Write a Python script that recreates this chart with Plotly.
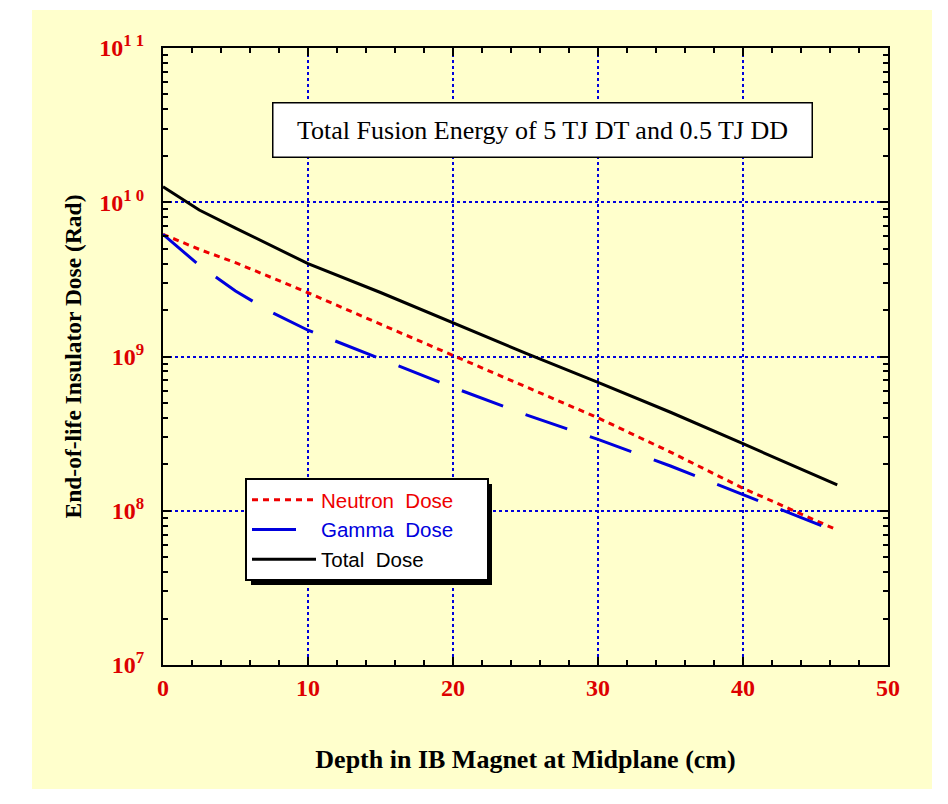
import plotly.graph_objects as go

depth = [0, 2.5, 5, 7.5, 10, 15, 20, 25, 30, 35, 40, 46.5]
neutron_dose = [6.2e9, 4.95e9, 4.06e9, 3.24e9, 2.59e9, 1.62e9, 1.02e9, 6.4e8, 4.0e8, 2.4e8, 1.40e8, 7.5e7]
gamma_dose = [6.2e9, 3.9e9, 2.66e9, 1.93e9, 1.48e9, 9.7e8, 6.3e8, 4.2e8, 2.9e8, 1.95e8, 1.27e8, 7.3e7]
total_dose = [1.26e10, 8.9e9, 6.8e9, 5.2e9, 4.0e9, 2.6e9, 1.65e9, 1.05e9, 6.8e8, 4.35e8, 2.72e8, 1.47e8]

y_tickvals = [1e7, 1e8, 1e9, 1e10, 1e11]
y_ticktext = ["10<sup>7</sup>", "10<sup>8</sup>", "10<sup>9</sup>", "10<sup>1 0</sup>", "10<sup>1 1</sup>"]
x_tickvals = [0, 10, 20, 30, 40, 50]
x_ticktext = ["0", "10", "20", "30", "40", "50"]

YELLOW = "#FFFFCC"
RED = "#DD0000"
BLUE = "#0000DD"
SERIF = "Liberation Serif, Times New Roman, serif"
SANS = "Liberation Sans, Arial, sans-serif"

# screen offset of the page (body margin 8px)
OFF = 8
W, H = 932, 788
L, T = 163 - OFF, 48 - OFF
PW, PH = 725, 617
R = W - L - PW
B = H - T - PH


def px_x(sx):
    return (sx - 163) / PW


def px_y(sy):
    return (665 - sy) / PH


SP = "&nbsp;"
fig = go.Figure()
fig.add_trace(go.Scatter(x=depth, y=neutron_dose, mode="lines",
                         name="<span style='color:#EE0000'>Neutron" + SP * 2 + "Dose" + SP * 5 + "</span>",
                         line=dict(color="#EE0000", width=3, dash="6px,5px")))
fig.add_trace(go.Scatter(x=depth, y=gamma_dose, mode="lines",
                         name="<span style='color:#0000DD'>Gamma" + SP * 2 + "Dose</span>",
                         line=dict(color="#0000DD", width=3, dash="44px,24px")))
fig.add_trace(go.Scatter(x=depth, y=total_dose, mode="lines",
                         name="<span style='color:#000000'>Total" + SP * 2 + "Dose</span>",
                         line=dict(color="#000000", width=3)))

minor_y = [k * 10 ** n for n in range(7, 11) for k in range(2, 10)]

fig.update_layout(
    width=W, height=H,
    margin=dict(l=L, r=R, t=T, b=B, pad=0),
    paper_bgcolor="white",
    plot_bgcolor=YELLOW,
    showlegend=True,
    legend=dict(
        x=px_x(245), y=px_y(478), xanchor="left", yanchor="top",
        bgcolor="white", bordercolor="black", borderwidth=2,
        font=dict(family=SANS, size=20.5, color="black"),
        tracegroupgap=0, itemwidth=64,
    ),
    xaxis=dict(
        range=[0, 50], tickvals=x_tickvals, ticktext=x_ticktext,
        showline=True, linecolor="black", linewidth=2, mirror="allticks",
        ticks="inside", ticklen=8, tickwidth=2, tickcolor="black",
        minor=dict(tickvals=list(range(2, 50, 2)), ticks="inside", ticklen=5, tickwidth=1.5, tickcolor="black", showgrid=False),
        showgrid=True, gridcolor=BLUE, griddash="dot", gridwidth=1.5,
        zeroline=False,
        tickfont=dict(family=SERIF, size=24, color=RED, weight="bold"),
        title=dict(text="Depth in IB Magnet at Midplane (cm)",
                   font=dict(family=SERIF, size=26, color="black", weight="bold"),
                   standoff=50),
    ),
    yaxis=dict(
        type="log", range=[7, 11], tickvals=y_tickvals, ticktext=y_ticktext,
        showline=True, linecolor="black", linewidth=2, mirror="allticks",
        ticks="inside", ticklen=8, tickwidth=2, tickcolor="black",
        minor=dict(tickvals=minor_y, ticks="inside", ticklen=5, tickwidth=1.5, tickcolor="black", showgrid=False),
        showgrid=True, gridcolor=BLUE, griddash="dot", gridwidth=1.5,
        zeroline=False,
        ticklabelstandoff=12,
        tickfont=dict(family=SERIF, size=24, color=RED, weight="bold"),
        title=dict(text="End-of-life Insulator Dose (Rad)",
                   font=dict(family=SERIF, size=23.5, color="black", weight="bold"),
                   standoff=11),
    ),
    shapes=[
        dict(type="rect", xref="paper", yref="paper", layer="below",
             x0=px_x(32), x1=px_x(932),
             y0=px_y(789), y1=px_y(10),
             fillcolor=YELLOW, line=dict(width=0)),
        dict(type="rect", xref="paper", yref="paper", layer="above",
             x0=px_x(251), x1=px_x(492),
             y0=px_y(585), y1=px_y(484),
             fillcolor="black", line=dict(width=0)),
    ],
    annotations=[
        dict(xref="paper", yref="paper", x=px_x(542), y=px_y(130.5),
             xanchor="center", yanchor="middle",
             text="Total Fusion Energy of 5 TJ DT and 0.5 TJ DD", showarrow=False,
             font=dict(family=SERIF, size=26, color="black"),
             bgcolor="white", bordercolor="black", borderwidth=1.5,
             width=536, height=51, align="center", valign="middle"),
    ],
)

fig.write_html("out.html")
